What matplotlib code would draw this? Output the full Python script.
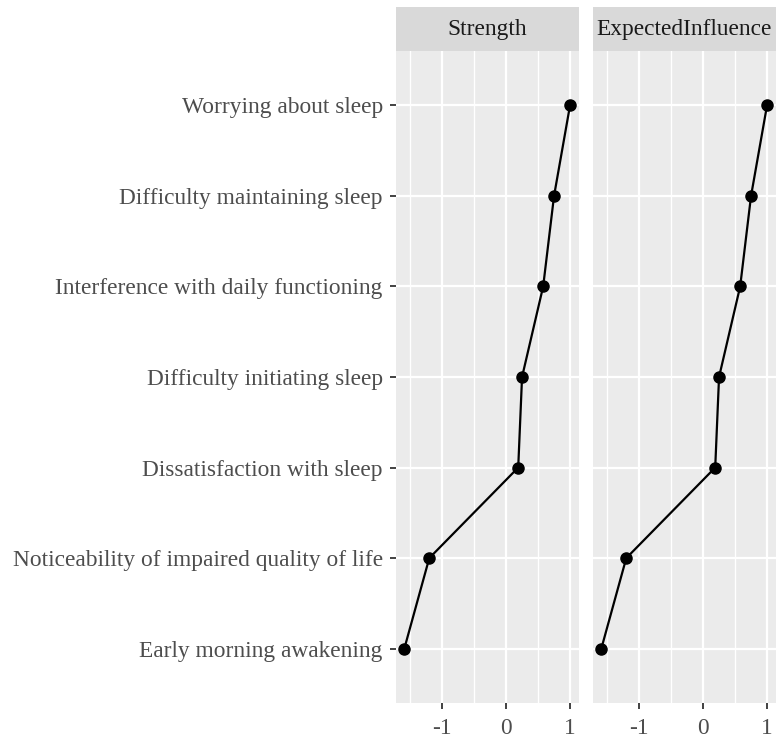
import numpy as np
import matplotlib
matplotlib.use("Agg")
import matplotlib.pyplot as plt

plt.rcParams['font.family'] = ['Liberation Serif', 'DejaVu Serif']

# node labels, bottom to top
nodes = ["Early morning awakening",
         "Noticeability of impaired quality of life",
         "Dissatisfaction with sleep",
         "Difficulty initiating sleep",
         "Interference with daily functioning",
         "Difficulty maintaining sleep",
         "Worrying about sleep"]
strength = [-1.59, -1.20, 0.19, 0.25, 0.58, 0.75, 1.00]
expected_influence = [-1.59, -1.20, 0.19, 0.25, 0.58, 0.75, 1.00]
panels = ["Strength", "ExpectedInfluence"]
values = [strength, expected_influence]
xticks = [-1, 0, 1]

W, H = 776, 740
fig = plt.figure(figsize=(W / 100, H / 100), dpi=100)

bottom = 1 - 703 / H
height = (703 - 51) / H
strip_h = (51 - 7) / H
lefts = [396 / W, 593 / W]
width = 183 / W

ypos = np.arange(1, len(nodes) + 1)

for i, (name, vals) in enumerate(zip(panels, values)):
    ax = fig.add_axes([lefts[i], bottom, width, height])
    ax.set_facecolor("#EBEBEB")
    ax.set_xlim(-1.72, 1.14)
    ax.set_ylim(0.4, 7.6)
    ax.set_xticks(xticks)
    ax.set_xticks([-1.5, -0.5, 0.5], minor=True)
    ax.set_yticks(ypos)
    ax.grid(which="major", color="white", lw=1.6)
    ax.grid(which="minor", axis="x", color="white", lw=1.0)
    ax.set_axisbelow(True)
    for s in ax.spines.values():
        s.set_visible(False)
    ax.tick_params(which="major", length=4.5, width=1.3, color="#333333",
                   labelcolor="#4D4D4D", labelsize=16.8)
    ax.tick_params(axis="y", pad=5)
    ax.tick_params(axis="x", pad=6)
    ax.tick_params(which="minor", length=0)
    ax.set_xticklabels([str(t) for t in xticks])
    if i == 0:
        ax.set_yticklabels(nodes)
    else:
        ax.tick_params(axis="y", left=False, labelleft=False)

    ax.plot(vals, ypos, color="black", lw=1.6, marker="o", ms=8, zorder=3)

    sax = fig.add_axes([lefts[i], 1 - 51 / H, width, strip_h])
    sax.set_facecolor("#D9D9D9")
    sax.set_xticks([])
    sax.set_yticks([])
    for s in sax.spines.values():
        s.set_visible(False)
    sax.text(0.5, 0.5, name, ha="center", va="center", fontsize=16.8,
             color="#1A1A1A", transform=sax.transAxes)

fig.savefig("out.png", dpi=100, facecolor="white")
